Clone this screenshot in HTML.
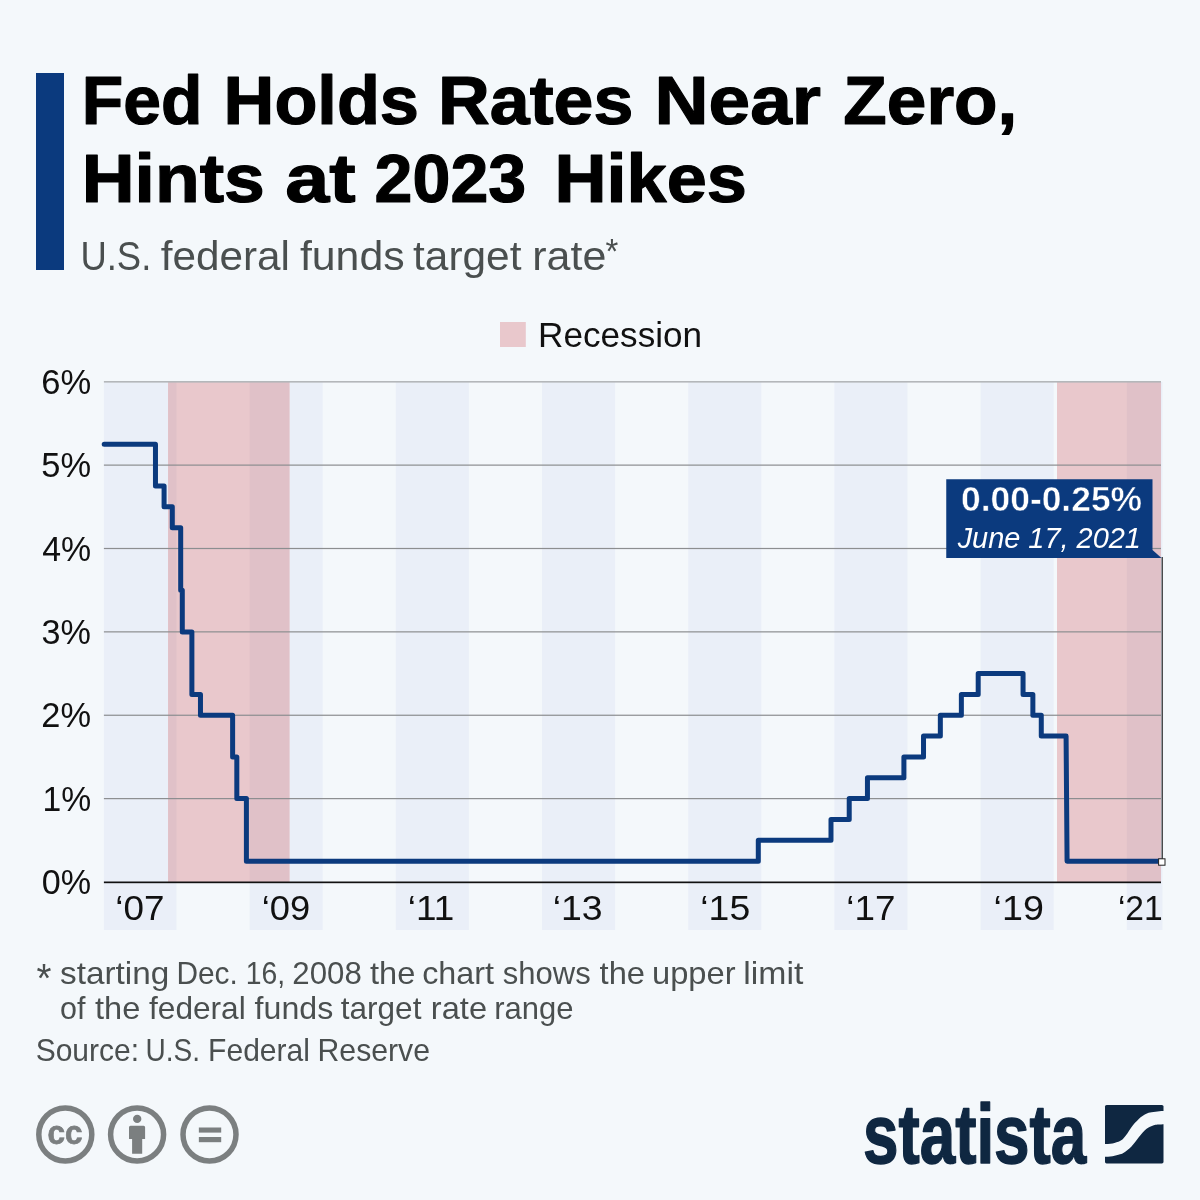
<!DOCTYPE html>
<html lang="en"><head><meta charset="utf-8"><title>Fed Holds Rates Near Zero, Hints at 2023 Hikes</title>
<style>
html,body{margin:0;padding:0;background:#f4f8fb;}
body{width:1200px;height:1200px;overflow:hidden;}
svg{display:block;}
text{font-family:"Liberation Sans",sans-serif;}
.b{font-weight:bold;}
</style></head><body>
<svg width="1200" height="1200" viewBox="0 0 1200 1200">
<rect width="1200" height="1200" fill="#f4f8fb"/>
<rect x="36" y="73" width="28" height="197" fill="#0b3a7e"/>

<text y="123.75" font-size="69" class="b" fill="#000" stroke="#000" stroke-width="1.2" stroke-linejoin="round">
<tspan id="t1" x="81.81" textLength="120.59" lengthAdjust="spacingAndGlyphs">Fed</tspan> 
<tspan id="t2" x="223.60" textLength="195.37" lengthAdjust="spacingAndGlyphs">Holds</tspan> 
<tspan id="t3" x="437.99" textLength="195.28" lengthAdjust="spacingAndGlyphs">Rates</tspan> 
<tspan id="t4" x="654.42" textLength="166.52" lengthAdjust="spacingAndGlyphs">Near</tspan> 
<tspan id="t5" x="843.35" textLength="173.98" lengthAdjust="spacingAndGlyphs">Zero,</tspan>
</text>
<text y="202.00" font-size="69" class="b" fill="#000" stroke="#000" stroke-width="1.2" stroke-linejoin="round">
<tspan id="t6" x="81.68" textLength="183.19" lengthAdjust="spacingAndGlyphs">Hints</tspan> 
<tspan id="t7" x="285.23" textLength="70.47" lengthAdjust="spacingAndGlyphs">at</tspan> 
<tspan id="t8" x="374.60" textLength="151.59" lengthAdjust="spacingAndGlyphs">2023</tspan> 
<tspan id="t9" x="554.49" textLength="192.31" lengthAdjust="spacingAndGlyphs">Hikes</tspan>
</text>
<text y="269.50" font-size="41" fill="#4a4f4f">
<tspan id="t10" x="80.39" textLength="70.89" lengthAdjust="spacingAndGlyphs">U.S.</tspan> 
<tspan id="t11" x="160.77" textLength="129.14" lengthAdjust="spacingAndGlyphs">federal</tspan> 
<tspan id="t12" x="299.92" textLength="104.71" lengthAdjust="spacingAndGlyphs">funds</tspan> 
<tspan id="t13" x="413.09" textLength="108.39" lengthAdjust="spacingAndGlyphs">target</tspan> 
<tspan id="t14" x="532.31" textLength="74.01" lengthAdjust="spacingAndGlyphs">rate</tspan>
</text>
<text id="t15" x="605.43" y="262.80" font-size="35" textLength="12.82" lengthAdjust="spacingAndGlyphs" fill="#4a4f4f">*</text>
<rect x="500" y="322" width="25.8" height="25" fill="#e9c8cc"/>
<text id="t16" x="538.12" y="346.90" font-size="35" textLength="164.00" lengthAdjust="spacingAndGlyphs" fill="#111111">Recession</text>
<rect x="103.90" y="382" width="72.60" height="548" fill="#eaeff8"/>
<rect x="249.60" y="382" width="73.10" height="548" fill="#eaeff8"/>
<rect x="395.80" y="382" width="73.10" height="548" fill="#eaeff8"/>
<rect x="542.00" y="382" width="73.10" height="548" fill="#eaeff8"/>
<rect x="688.20" y="382" width="73.10" height="548" fill="#eaeff8"/>
<rect x="834.40" y="382" width="73.10" height="548" fill="#eaeff8"/>
<rect x="980.60" y="382" width="73.10" height="548" fill="#eaeff8"/>
<rect x="1126.80" y="382" width="35.70" height="548" fill="#eaeff8"/>
<rect x="168.1" y="382" width="121.30" height="500" fill="#e9c8cc"/>
<rect x="168.1" y="382" width="8.40" height="500" fill="#e0c1c8"/>
<rect x="249.60" y="382" width="39.80" height="500" fill="#e0c1c8"/>
<rect x="1057" y="382" width="104.00" height="500" fill="#e9c8cc"/>
<rect x="1126.80" y="382" width="34.20" height="500" fill="#e0c1c8"/>
<rect x="103.9" y="798.02" width="1057.10" height="1.2" fill="#8c8e90"/>
<rect x="103.9" y="714.65" width="1057.10" height="1.2" fill="#8c8e90"/>
<rect x="103.9" y="631.27" width="1057.10" height="1.2" fill="#8c8e90"/>
<rect x="103.9" y="547.90" width="1057.10" height="1.2" fill="#8c8e90"/>
<rect x="103.9" y="464.52" width="1057.10" height="1.2" fill="#8c8e90"/>
<rect x="103.9" y="381" width="1057.10" height="1.6" fill="#b4b7ba"/>
<text id="t17" x="41.82" y="894.00" font-size="34.5" textLength="49.27" lengthAdjust="spacingAndGlyphs" fill="#111111">0%</text>
<text id="t18" x="42.43" y="810.62" font-size="34.5" textLength="48.67" lengthAdjust="spacingAndGlyphs" fill="#111111">1%</text>
<text id="t19" x="41.25" y="727.25" font-size="34.5" textLength="49.74" lengthAdjust="spacingAndGlyphs" fill="#111111">2%</text>
<text id="t20" x="41.60" y="643.88" font-size="34.5" textLength="49.39" lengthAdjust="spacingAndGlyphs" fill="#111111">3%</text>
<text id="t21" x="42.17" y="560.50" font-size="34.5" textLength="48.89" lengthAdjust="spacingAndGlyphs" fill="#111111">4%</text>
<text id="t22" x="41.29" y="477.12" font-size="34.5" textLength="49.79" lengthAdjust="spacingAndGlyphs" fill="#111111">5%</text>
<text id="t23" x="41.20" y="393.75" font-size="34.5" textLength="49.90" lengthAdjust="spacingAndGlyphs" fill="#111111">6%</text>
<rect x="103.9" y="881.5" width="1057.10" height="1.7" fill="#111"/>
<text id="t24" x="115.28" y="920.00" font-size="34.5" textLength="49.14" lengthAdjust="spacingAndGlyphs" fill="#111111">‘07</text>
<text id="t25" x="261.82" y="920.00" font-size="34.5" textLength="48.43" lengthAdjust="spacingAndGlyphs" fill="#111111">‘09</text>
<text id="t26" x="407.78" y="920.00" font-size="34.5" textLength="46.48" lengthAdjust="spacingAndGlyphs" fill="#111111">‘11</text>
<text id="t27" x="552.67" y="920.00" font-size="34.5" textLength="49.98" lengthAdjust="spacingAndGlyphs" fill="#111111">‘13</text>
<text id="t28" x="700.30" y="920.00" font-size="34.5" textLength="49.89" lengthAdjust="spacingAndGlyphs" fill="#111111">‘15</text>
<text id="t29" x="846.28" y="920.00" font-size="34.5" textLength="49.14" lengthAdjust="spacingAndGlyphs" fill="#111111">‘17</text>
<text id="t30" x="993.62" y="920.00" font-size="34.5" textLength="50.22" lengthAdjust="spacingAndGlyphs" fill="#111111">‘19</text>
<text id="t31" x="1117.92" y="920.00" font-size="34.5" textLength="44.83" lengthAdjust="spacingAndGlyphs" fill="#111111">‘21</text>
<path d="M104.20,444.28 L155.47,444.28 L155.47,485.97 L164.08,485.97 L164.08,506.81 L172.29,506.81 L172.29,527.66 L180.69,527.66 L180.69,590.19 L182.29,590.19 L182.29,631.88 L191.88,631.88 L191.88,694.41 L200.47,694.41 L200.47,715.25 L232.62,715.25 L232.62,756.94 L236.82,756.94 L236.82,798.62 L246.40,798.62 L246.40,861.16 L758.30,861.16 L758.30,840.31 L831.00,840.31 L831.00,819.47 L849.22,819.47 L849.22,798.62 L867.45,798.62 L867.45,777.78 L903.90,777.78 L903.90,756.94 L923.52,756.94 L923.52,736.09 L940.34,736.09 L940.34,715.25 L961.37,715.25 L961.37,694.41 L978.20,694.41 L978.20,673.56 L1023.06,673.56 L1023.06,694.41 L1032.87,694.41 L1032.87,715.25 L1041.28,715.25 L1041.28,736.09 L1066.08,736.09 L1067.08,861.16 L1161.50,861.16" fill="none" stroke="#0b3a7e" stroke-width="5" stroke-linejoin="round" stroke-linecap="round"/>
<rect x="1161.6" y="557" width="1.2" height="302" fill="#222"/>
<path d="M946.25,479.25 H1152.5 V550 L1161.5,558 H946.25 Z" fill="#0b3a7e"/>
<text id="t32" x="960.97" y="511.20" font-size="34.5" textLength="181.10" lengthAdjust="spacingAndGlyphs" class="b" fill="#fff" stroke="#0b3a7e" stroke-width="0.5">0.00-0.25%</text>
<text id="t33" x="957.64" y="548.00" font-size="29.5" textLength="183.31" lengthAdjust="spacingAndGlyphs" fill="#fff" font-style="italic">June 17, 2021</text>
<rect x="1158.6" y="858.8" width="6.4" height="6.4" fill="#fff" stroke="#222" stroke-width="1"/>
<text id="t34" x="36.53" y="991.60" font-size="40.5" textLength="14.95" lengthAdjust="spacingAndGlyphs" fill="#4a4f4f">*</text>
<text y="983.75" font-size="31.5" fill="#4a4f4f">
<tspan id="t35" x="60.03" textLength="109.23" lengthAdjust="spacingAndGlyphs">starting</tspan> 
<tspan id="t36" x="176.46" textLength="61.34" lengthAdjust="spacingAndGlyphs">Dec.</tspan> 
<tspan id="t37" x="245.72" textLength="39.39" lengthAdjust="spacingAndGlyphs">16,</tspan> 
<tspan id="t38" x="292.32" textLength="69.42" lengthAdjust="spacingAndGlyphs">2008</tspan> 
<tspan id="t39" x="369.98" textLength="45.30" lengthAdjust="spacingAndGlyphs">the</tspan> 
<tspan id="t40" x="422.20" textLength="71.82" lengthAdjust="spacingAndGlyphs">chart</tspan> 
<tspan id="t41" x="502.82" textLength="87.94" lengthAdjust="spacingAndGlyphs">shows</tspan> 
<tspan id="t42" x="599.56" textLength="45.45" lengthAdjust="spacingAndGlyphs">the</tspan> 
<tspan id="t43" x="652.02" textLength="83.55" lengthAdjust="spacingAndGlyphs">upper</tspan> 
<tspan id="t44" x="743.29" textLength="60.07" lengthAdjust="spacingAndGlyphs">limit</tspan>
</text>
<text y="1019.00" font-size="31.5" fill="#4a4f4f">
<tspan id="t45" x="59.97" textLength="25.38" lengthAdjust="spacingAndGlyphs">of</tspan> 
<tspan id="t46" x="94.98" textLength="45.30" lengthAdjust="spacingAndGlyphs">the</tspan> 
<tspan id="t47" x="149.01" textLength="96.74" lengthAdjust="spacingAndGlyphs">federal</tspan> 
<tspan id="t48" x="254.60" textLength="78.67" lengthAdjust="spacingAndGlyphs">funds</tspan> 
<tspan id="t49" x="340.75" textLength="80.67" lengthAdjust="spacingAndGlyphs">target</tspan> 
<tspan id="t50" x="430.86" textLength="56.14" lengthAdjust="spacingAndGlyphs">rate</tspan> 
<tspan id="t51" x="494.18" textLength="79.32" lengthAdjust="spacingAndGlyphs">range</tspan>
</text>
<text y="1060.80" font-size="31.5" fill="#4a4f4f">
<tspan id="t52" x="35.63" textLength="103.39" lengthAdjust="spacingAndGlyphs">Source:</tspan> 
<tspan id="t53" x="145.43" textLength="54.51" lengthAdjust="spacingAndGlyphs">U.S.</tspan> 
<tspan id="t54" x="208.10" textLength="101.79" lengthAdjust="spacingAndGlyphs">Federal</tspan> 
<tspan id="t55" x="317.52" textLength="112.49" lengthAdjust="spacingAndGlyphs">Reserve</tspan>
</text>
<circle cx="65.3" cy="1134.5" r="26.5" fill="none" stroke="#7b7f80" stroke-width="5.5"/>
<circle cx="137.1" cy="1134.5" r="26.5" fill="none" stroke="#7b7f80" stroke-width="5.5"/>
<circle cx="209.5" cy="1134.5" r="26.5" fill="none" stroke="#7b7f80" stroke-width="5.5"/>
<text id="t56" x="47.61" y="1143.60" font-size="34" textLength="35.01" lengthAdjust="spacingAndGlyphs" class="b" fill="#7b7f80" stroke="#7b7f80" stroke-width="0.8">cc</text>
<circle cx="137.2" cy="1118.9" r="4.2" fill="#7b7f80"/>
<path d="M130.5,1125.7 h13.1 a1.5,1.5 0 0 1 1.5,1.5 v11.8 h-2.9 v14.7 h-10.1 v-14.7 h-3.100 v-11.8 a1.5,1.5 0 0 1 1.5,-1.5 Z" fill="#7b7f80"/>
<rect x="198.85" y="1127.5" width="22.35" height="5.1" fill="#7b7f80"/><rect x="198.85" y="1137" width="22.35" height="5.200" fill="#7b7f80"/>
<text id="t57" x="862.93" y="1162.50" font-size="84" textLength="223.42" lengthAdjust="spacingAndGlyphs" class="b" fill="#0f2741" stroke="#0f2741" stroke-width="1.5" stroke-linejoin="round">statista</text>
<rect x="1105" y="1105" width="58.5" height="58.4" rx="1.600" fill="#0f2741"/>
<path d="M1104.25,1143.93 C1105.63,1143.84 1109.88,1143.89 1112.50,1143.40 C1115.13,1142.91 1118.13,1141.90 1120.00,1141.00 C1121.88,1140.10 1122.50,1139.31 1123.75,1138.00 C1125.00,1136.69 1126.25,1134.88 1127.50,1133.13 C1128.75,1131.38 1130.00,1129.21 1131.25,1127.50 C1132.50,1125.79 1133.75,1124.29 1135.00,1122.85 C1136.25,1121.41 1137.50,1120.04 1138.75,1118.88 C1140.00,1117.71 1141.25,1116.71 1142.50,1115.88 C1143.75,1115.04 1145.00,1114.41 1146.25,1113.85 C1147.50,1113.29 1148.13,1112.91 1150.00,1112.50 C1151.88,1112.09 1155.13,1111.63 1157.50,1111.38 C1159.88,1111.13 1163.13,1111.06 1164.25,1111.00 L1164.25,1124.13 C1163.13,1124.19 1159.25,1124.31 1157.50,1124.50 C1155.75,1124.69 1155.00,1124.88 1153.75,1125.25 C1152.50,1125.63 1151.25,1126.13 1150.00,1126.75 C1148.75,1127.38 1147.50,1128.00 1146.25,1129.00 C1145.00,1130.00 1143.75,1131.38 1142.50,1132.75 C1141.25,1134.13 1140.00,1135.69 1138.75,1137.25 C1137.50,1138.81 1136.25,1140.56 1135.00,1142.13 C1133.75,1143.69 1132.50,1145.31 1131.25,1146.63 C1130.00,1147.94 1128.75,1149.00 1127.50,1150.00 C1126.25,1151.00 1125.00,1151.90 1123.75,1152.63 C1122.50,1153.35 1121.88,1153.76 1120.00,1154.35 C1118.13,1154.94 1115.13,1155.75 1112.50,1156.15 C1109.88,1156.55 1105.63,1156.65 1104.25,1156.75 Z" fill="#f4f8fb"/>
</svg></body></html>
